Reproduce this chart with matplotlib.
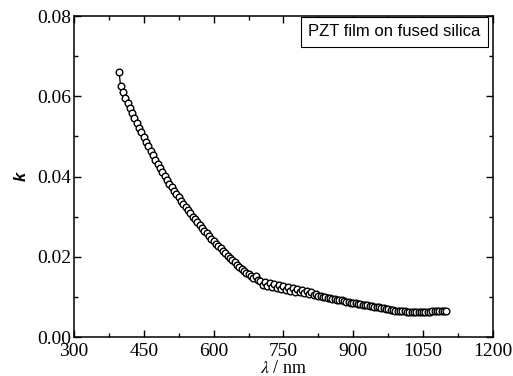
import numpy as np
import matplotlib
matplotlib.use("Agg")
import matplotlib.pyplot as plt
from matplotlib.ticker import MultipleLocator

# wavelength (nm) and extinction coefficient k
wavelength = [397, 400, 405, 410, 415, 420, 425, 430, 435, 440, 445, 450, 455, 460,
              465, 470, 475, 480, 485, 490, 495, 500, 505, 510, 515, 520, 525, 530,
              535, 540, 545, 550, 555, 560, 565, 570, 575, 580, 585, 590, 595, 600,
              605, 610, 615, 620, 625, 630, 635, 640, 645, 650, 655, 660, 665, 670,
              675, 680, 685, 690, 695, 700, 705, 710, 715, 720, 725, 730, 735, 740,
              745, 750, 755, 760, 765, 770, 775, 780, 785, 790, 795, 800, 805, 810,
              815, 820, 825, 830, 835, 840, 845, 850, 855, 860, 865, 870, 875, 880,
              885, 890, 895, 900, 905, 910, 915, 920, 925, 930, 935, 940, 945, 950,
              955, 960, 965, 970, 975, 980, 985, 990, 995, 1000, 1005, 1010, 1015,
              1020, 1025, 1030, 1035, 1040, 1045, 1050, 1055, 1060, 1065, 1070, 1075,
              1080, 1085, 1090, 1095, 1098]
k_values = [.0660, .0626, .0610, .0596, .0583, .0570, .0558, .0546, .0534, .0522,
            .0510, .0498, .0486, .0475, .0464, .0453, .0442, .0431, .0421, .0411,
            .0401, .0391, .0382, .0373, .0364, .0356, .0348, .0340, .0332, .0324,
            .0316, .0308, .0300, .0293, .0286, .0279, .0272, .0265, .0258, .0251,
            .0245, .0239, .0233, .0227, .0221, .0215, .0209, .0203, .0197, .0191,
            .0186, .0180, .0175, .0170, .0165, .0160, .0156, .0152, .0148, .0152,
            .0142, .0140, .0130, .0138, .0127, .0135, .0124, .0133, .0121, .0130,
            .0119, .0127, .0117, .0124, .0115, .0122, .0113, .0120, .0111, .0117,
            .0109, .0114, .0107, .0111, .0105, .0107, .0103, .0102, .0100, .0099,
            .0098, .0097, .0095, .0094, .0093, .0092, .0091, .0089, .0088, .0087,
            .0086, .0085, .0084, .0083, .0082, .0081, .0080, .0079, .0078, .0077,
            .0076, .0075, .0074, .0073, .0072, .0070, .0069, .0068, .0067, .0066,
            .0066, .0065, .0064, .0064, .0063, .0063, .0062, .0062, .0062, .0062,
            .0062, .0062, .0063, .0063, .0063, .0064, .0064, .0065, .0065, .0065,
            .0066, .0066]

plt.rcParams['mathtext.fontset'] = 'stix'

fig = plt.figure(figsize=(5.13, 3.76), dpi=100)
ax = fig.add_axes([0.1442, 0.1037, 0.8168, 0.8537])

ax.plot(wavelength, k_values, '-o', color='black', linewidth=0.9,
        markersize=4.8, markerfacecolor='white', markeredgecolor='black',
        markeredgewidth=1.0)

ax.set_xlim(300, 1200)
ax.set_ylim(0, 0.08)
ax.xaxis.set_major_locator(MultipleLocator(150))
ax.xaxis.set_minor_locator(MultipleLocator(75))
ax.yaxis.set_major_locator(MultipleLocator(0.02))
ax.yaxis.set_minor_locator(MultipleLocator(0.01))
ax.yaxis.set_major_formatter(matplotlib.ticker.FormatStrFormatter('%.2f'))
ax.tick_params(which='both', direction='in', top=True, right=True, width=1)
ax.tick_params(which='major', length=5, labelsize=14)
ax.tick_params(axis='x', which='major', pad=4)
ax.tick_params(axis='y', which='major', pad=2)
ax.tick_params(which='minor', length=3)
for lab in ax.get_xticklabels() + ax.get_yticklabels():
    lab.set_family('Liberation Serif')
for s in ax.spines.values():
    s.set_linewidth(1.1)

ax.set_xlabel(r'$\it{\lambda}$ / nm', family='Liberation Serif', fontsize=13, labelpad=0)
ax.set_ylabel('k', family='Liberation Sans', fontsize=12, fontweight='bold',
              style='italic', labelpad=6)

ax.text(0.97, 0.975, 'PZT film on fused silica', transform=ax.transAxes,
        ha='right', va='top', family='Liberation Sans', fontsize=12,
        bbox=dict(boxstyle='square,pad=0.45', facecolor='white',
                  edgecolor='black', linewidth=0.8))

fig.savefig('out.png', dpi=100)
